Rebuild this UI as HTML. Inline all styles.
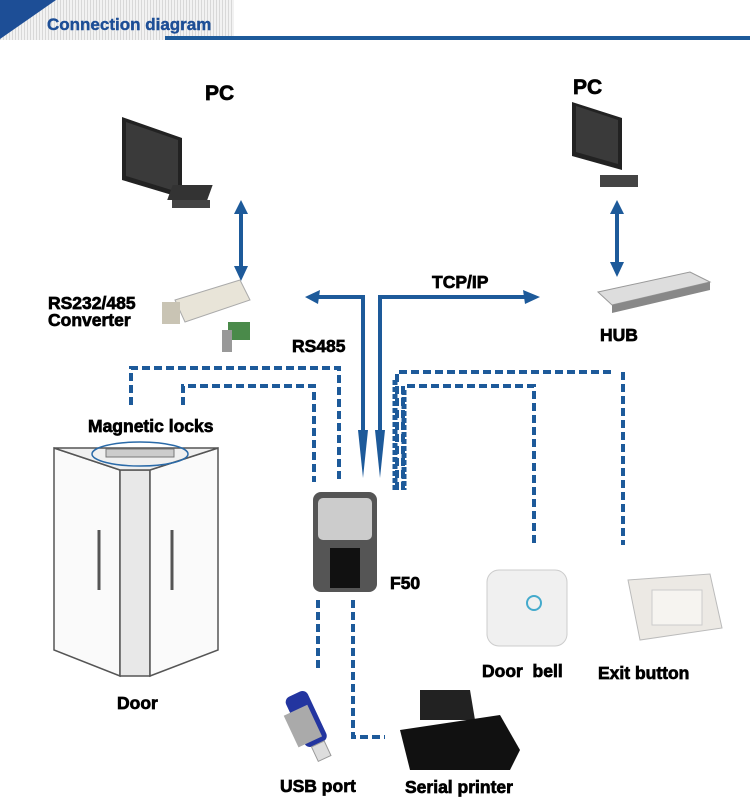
<!DOCTYPE html>
<html><head><meta charset="utf-8"><style>
body{margin:0;background:#fff;}
svg{display:block;font-family:"Liberation Sans",sans-serif;font-weight:bold;}
</style></head><body>
<svg width="750" height="800" viewBox="0 0 750 800">
<defs>
<pattern id="st" width="3" height="10" patternUnits="userSpaceOnUse"><rect width="3" height="10" fill="#f2f2f2"/><rect width="1" height="10" fill="#d8d8d8"/></pattern>
</defs>
<rect x="0" y="0" width="234" height="40" fill="url(#st)"/>
<polygon points="0,0 56,0 0,39" fill="#1d4e96"/>
<rect x="165" y="36" width="585" height="4" fill="#1d5a9a"/>
<text x="47" y="30" font-size="17" fill="#1d4e96" stroke="#1d4e96" stroke-width="0.4">Connection diagram</text>

<g fill="#000" stroke="#000" stroke-width="0.7" font-size="17.5">
<text x="205" y="100" font-size="21">PC</text>
<text x="573" y="94" font-size="21">PC</text>
<text x="48" y="309">RS232/485</text>
<text x="48" y="326">Converter</text>
<text x="432" y="288">TCP/IP</text>
<text x="292" y="352">RS485</text>
<text x="600" y="341">HUB</text>
<text x="88" y="432">Magnetic locks</text>
<text x="390" y="589">F50</text>
<text x="117" y="709">Door</text>
<text x="482" y="677" xml:space="preserve">Door  bell</text>
<text x="598" y="679">Exit button</text>
<text x="280" y="792">USB port</text>
<text x="405" y="793">Serial printer</text>
</g>

<g>
<polygon points="122,117 182,138 182,198 122,180" fill="#222"/>
<polygon points="126,122 178,140 178,192 126,176" fill="#3a3a3a"/>
<rect x="170" y="185" width="40" height="15" fill="#333" transform="skewX(-20) translate(70,0)"/>
<rect x="172" y="200" width="38" height="8" fill="#444"/>
<polygon points="572,102 622,118 622,170 572,156" fill="#222"/>
<polygon points="576,106 618,120 618,164 576,152" fill="#3a3a3a"/>
<rect x="600" y="175" width="38" height="12" fill="#444"/>
</g>

<g stroke="#1d5a9a" stroke-width="4" fill="#1d5a9a">
<line x1="241" y1="212" x2="241" y2="268"/>
<line x1="617" y1="212" x2="617" y2="262"/>
</g>
<g fill="#1d5a9a">
<polygon points="234,214 248,214 241,200"/>
<polygon points="234,266 248,266 241,281"/>
<polygon points="610,214 624,214 617,200"/>
<polygon points="610,262 624,262 617,277"/>
</g>

<polygon points="175,300 240,280 250,300 185,322" fill="#e8e4d8" stroke="#aaa"/>
<rect x="162" y="302" width="18" height="22" fill="#c9c4b4"/>
<rect x="228" y="322" width="22" height="18" fill="#4a8a4a"/>
<rect x="222" y="330" width="10" height="22" fill="#999"/>
<polygon points="598,292 690,272 710,282 612,305" fill="#ddd" stroke="#999"/>
<polygon points="612,305 710,282 710,290 612,313" fill="#888"/>

<g stroke="#1d5a9a" stroke-width="4" fill="none">
<polyline points="363,440 363,297 318,297"/>
<polyline points="380,440 380,297 525,297"/>
</g>
<g fill="#1d5a9a">
<polygon points="305,297 320,290 318,304"/>
<polygon points="540,297 523,290 525,304"/>
<polygon points="358,430 368,430 363,478"/>
<polygon points="375,430 385,430 380,478"/>
</g>

<g stroke="#1d5a9a" fill="none" stroke-width="4" stroke-dasharray="8,4">
<polyline points="131,405 131,368 339,368 339,482"/>
<polyline points="183,405 183,386 314,386 314,482"/>
<polyline points="397,490 397,372 614,372"/>
<polyline points="403,490 403,386 534,386 534,543"/>
<polyline points="623,372 623,545"/>
<polyline points="318,600 318,672"/>
<polyline points="353,600 353,737 385,737"/>
</g>
<g stroke="#1d5a9a" fill="none" stroke-width="5" stroke-dasharray="5,2">
<line x1="395" y1="380" x2="395" y2="490"/>
<line x1="404" y1="390" x2="404" y2="490"/>
</g>

<g stroke="#555" stroke-width="1.5" fill="#fafafa">
<polygon points="54,448 120,470 120,676 54,650"/>
<polygon points="120,470 150,470 150,676 120,676" fill="#e8e8e8"/>
<polygon points="150,470 218,448 218,650 150,676"/>
<polygon points="54,448 218,448 150,470 120,470" fill="#f0f0f0"/>
</g>
<line x1="99" y1="530" x2="99" y2="590" stroke="#555" stroke-width="3"/>
<line x1="172" y1="530" x2="172" y2="590" stroke="#555" stroke-width="3"/>
<ellipse cx="140" cy="454" rx="48" ry="12" fill="none" stroke="#2a6aa8" stroke-width="1.5"/>
<rect x="106" y="449" width="68" height="8" fill="#ccc" stroke="#777"/>

<rect x="313" y="492" width="64" height="100" rx="8" fill="#555"/>
<rect x="318" y="498" width="54" height="42" rx="5" fill="#ccc"/>
<rect x="330" y="548" width="30" height="40" fill="#111"/>

<g transform="rotate(-25 310 720)">
<rect x="295" y="690" width="24" height="55" rx="6" fill="#2335a0"/>
<rect x="288" y="705" width="26" height="35" fill="#aaa"/>
<rect x="300" y="745" width="14" height="16" fill="#ddd" stroke="#999"/>
</g>
<polygon points="420,690 470,690 475,720 420,720" fill="#222"/>
<polygon points="400,730 500,715 520,750 510,770 410,770" fill="#111"/>
<rect x="487" y="570" width="80" height="76" rx="12" fill="#f0f0f0" stroke="#ccc"/>
<circle cx="534" cy="603" r="7" fill="none" stroke="#4ac" stroke-width="2"/>
<polygon points="628,580 710,574 722,628 640,640" fill="#ece9e4" stroke="#bbb"/>
<rect x="652" y="590" width="50" height="35" fill="#f6f4f0" stroke="#ccc"/>
</svg>
</body></html>
